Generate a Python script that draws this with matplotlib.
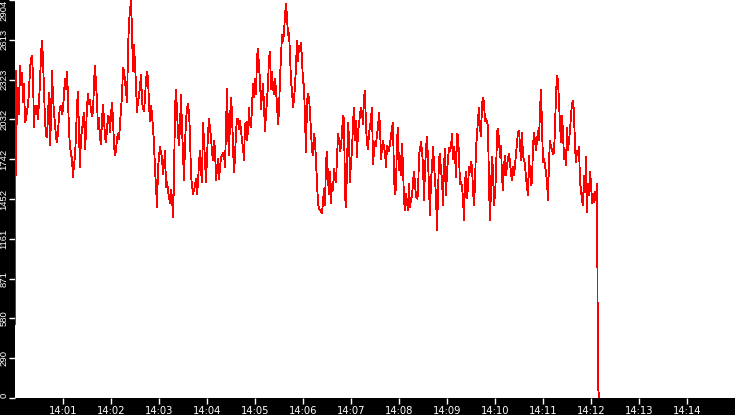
import datetime as dt
import matplotlib
matplotlib.use("Agg")
import matplotlib.pyplot as plt
import matplotlib.dates as mdates

# ---- data ----
start_time = dt.datetime(2000, 1, 1, 14, 0, 0)
sample_seconds = 1.25

seg1 = [540, 2385, 1999, 2265, 2071, 2422, 2337, 2373, 2156, 2289, 2011, 2035, 2095, 2132, 2240, 2398,
        2482, 2494, 2349, 1975, 2132, 2071, 2132, 2035, 2168, 2301, 2506, 2608, 2470, 2240, 2023, 1914,
        1902, 2059, 2228, 1842, 2035, 2390, 2192, 2083, 1999, 1902, 1866, 1938, 2059, 2120, 2132, 2071,
        2108, 2216, 2332, 2253, 2381, 2192, 1938, 1842, 1781, 1745, 1612, 1709, 1757, 1926, 2132, 2236,
        1926, 1685, 1914, 1938, 2035, 2083, 1818, 1938, 2132, 2216, 2144, 2173, 2095, 2059, 2083, 2301,
        2422, 2301, 2168, 1963, 2047, 1902, 1854, 2035, 2139, 2035, 1902, 1866, 1963, 2059, 2047, 1938,
        2071, 2156, 2035, 1842, 1769]
seg2 = [1805, 1890, 1926, 1890, 1999, 2108, 2204, 2410, 2385, 2313, 2240, 2156, 2530, 2748, 2820, 2904,
        2675, 2385, 2579, 2434, 2289, 2083, 2168, 2204, 2277, 2361, 2168, 2108, 2095, 2192, 2325, 2381,
        2337, 2144, 2023, 2132, 2071, 1963, 1866, 1660, 1552, 1395, 1673, 1769, 1830, 1793, 1757, 1636,
        1697, 1805, 1540, 1576, 1515, 1467, 1419, 1515, 1467, 1322, 1588, 2120, 2245, 2095, 1926, 1842,
        1975, 2211, 1963, 1793, 1588, 1854, 2023, 2108, 2144, 2083, 1926, 1624, 1552, 1491, 1515, 1552,
        1600, 1491, 1564, 1721, 1805, 1660, 1576, 2004, 1878, 1733, 1576, 1745, 1926, 2035, 1963, 1902]
seg3 = [1793, 1733, 1878, 1818, 1588, 1673, 1745, 1600, 1673, 1757, 1769, 1786, 1781, 1685, 1975, 2253,
        1950, 1769, 2035, 2192, 2083, 1830, 1648, 1757, 1938, 2035, 2035, 1963, 2023, 1950, 1878, 1830,
        1733, 1999, 2011, 1878, 1950, 2115, 1999, 1975, 2120, 2289, 2192, 2325, 2216, 2487, 2550, 2410,
        2325, 2108, 2216, 2289, 2132, 1950, 2071, 2168, 2289, 2482, 2526, 2253, 2381, 2265, 2216, 2332,
        2240, 2144, 1999, 2095, 2332, 2494, 2651, 2603, 2663, 2796, 2874, 2784, 2651, 2663, 2506, 2313,
        2240, 2124, 2180, 2277, 2422, 2603, 2458, 2567, 2530, 2591, 2470, 2313, 2277, 2035, 1793]
seg4 = [2168, 2216, 2192, 2083, 1950, 1805, 1769, 1926, 1878, 1721, 1564, 1419, 1383, 1370, 1358, 1346,
        1431, 1527, 1407, 1721, 1793, 1588, 1491, 1648, 1419, 1564, 1515, 1672, 1600, 1576, 1745, 1926,
        1878, 1805, 1829, 1950, 2059, 2035, 1479, 1395, 1685, 2011, 1902, 1576, 1733, 1793, 2011, 2119,
        1878, 2023, 1757, 1950, 1987, 2071, 2119, 2083, 1999, 2192, 2240, 1974, 1866, 1817, 1938, 1974,
        2047, 2119, 1709, 1805, 1866, 1841, 1926, 1974, 2083, 1987, 1745, 1829, 1878, 1829, 1793, 1685,
        1841, 1829, 1805, 1853, 1914, 1974, 2011, 1600, 1491, 1527, 1890, 1974, 1660, 1769, 1624]
seg5 = [1854, 1685, 1443, 1370, 1491, 1431, 1370, 1564, 1395, 1455, 1467, 1576, 1648, 1564, 1467, 1455,
        1479, 1769, 1817, 1866, 1805, 1697, 1443, 1672, 1817, 1907, 1733, 1527, 1334, 1600, 1672, 1834,
        1709, 1588, 1479, 1225, 1479, 1745, 1781, 1648, 1600, 1407, 1697, 1817, 1479, 1648, 1745, 1824,
        1805, 1829, 1926, 1745, 1829, 1781, 1612, 1926, 1914, 1769, 1564, 1576, 1540, 1455, 1298, 1576,
        1648, 1455, 1540, 1685, 1648, 1721, 1685, 1515, 1407, 1564, 1829, 1914, 2035, 2119, 1962, 1914,
        2144, 2192, 2156, 2023, 2035, 2011, 1987, 1540, 1298, 1527, 1757, 1660, 1407, 1491, 1624]
seg6 = [1938, 1967, 1878, 1757, 1841, 1612, 1515, 1697, 1769, 1624, 1697, 1745, 1781, 1721, 1636, 1588,
        1685, 1624, 1697, 1781, 1866, 1938, 1950, 1841, 1733, 1938, 1757, 1745, 1697, 1612, 1540, 1479,
        1769, 1648, 1552, 1576, 1841, 1938, 1878, 1805, 1878, 1950, 1878, 2107, 2245, 1974, 1721, 1745,
        1697, 1648, 1576, 1443, 1733, 1878, 1829, 1817, 1781, 1793, 1969, 2216, 2349, 2313, 2156, 1999,
        1866, 2059, 1938, 1745, 1805, 1697, 1974, 1805, 1878, 1950, 2059, 2144, 2168, 2083, 1829, 1721,
        1805, 1781, 1829, 1576, 1515, 1443, 1407, 1624, 1503, 1757, 1358, 1564, 1479, 1648, 1564, 1419,
        1491, 1431, 1503, 1443, 1564]
tail = [89, 0]

y_max = 2904
y_tick_count = 11
x_tick_minutes = list(range(1, 15))   # 14:01 .. 14:14
x_span_minutes = 15

values = seg1 + seg2 + seg3 + seg4 + seg5 + seg6 + tail
times = [start_time + dt.timedelta(seconds=i * sample_seconds) for i in range(len(values))]

# ---- figure ----
W, H, DPI = 735, 415, 100
fig = plt.figure(figsize=(W / DPI, H / DPI), dpi=DPI, facecolor="black")
left_px, bottom_px = 15, 17
ax = fig.add_axes([left_px / W, bottom_px / H, 1 - left_px / W, 1 - bottom_px / H])
ax.set_facecolor("white")
for s in ax.spines.values():
    s.set_visible(False)

ax.plot(times, values, color="#ff0000", lw=0.6, antialiased=False)

ax.set_xlim(start_time, start_time + dt.timedelta(minutes=x_span_minutes))
ax.set_ylim(0, y_max)

xt = [start_time + dt.timedelta(minutes=m) for m in x_tick_minutes]
ax.set_xticks(xt)
ax.xaxis.set_major_formatter(mdates.DateFormatter("%H:%M"))

yt = [y_max * i / (y_tick_count - 1) for i in range(y_tick_count)]
ax.set_yticks(yt)
ax.set_yticklabels([str(int(v)) for v in yt], rotation=90, va="center",
                   family=["Liberation Sans", "DejaVu Sans"], fontsize=6.8)

ax.tick_params(axis="both", colors="white", direction="out", length=4, width=1,
               labelcolor="white")
ax.tick_params(axis="x", pad=1.5, labelsize=7.2)
ax.tick_params(axis="y", pad=0.8)

ylabs = ax.get_yticklabels()
ylabs[0].set_verticalalignment("bottom")
ylabs[-1].set_verticalalignment("top")

fig.savefig("out.png", dpi=DPI, facecolor="black")
